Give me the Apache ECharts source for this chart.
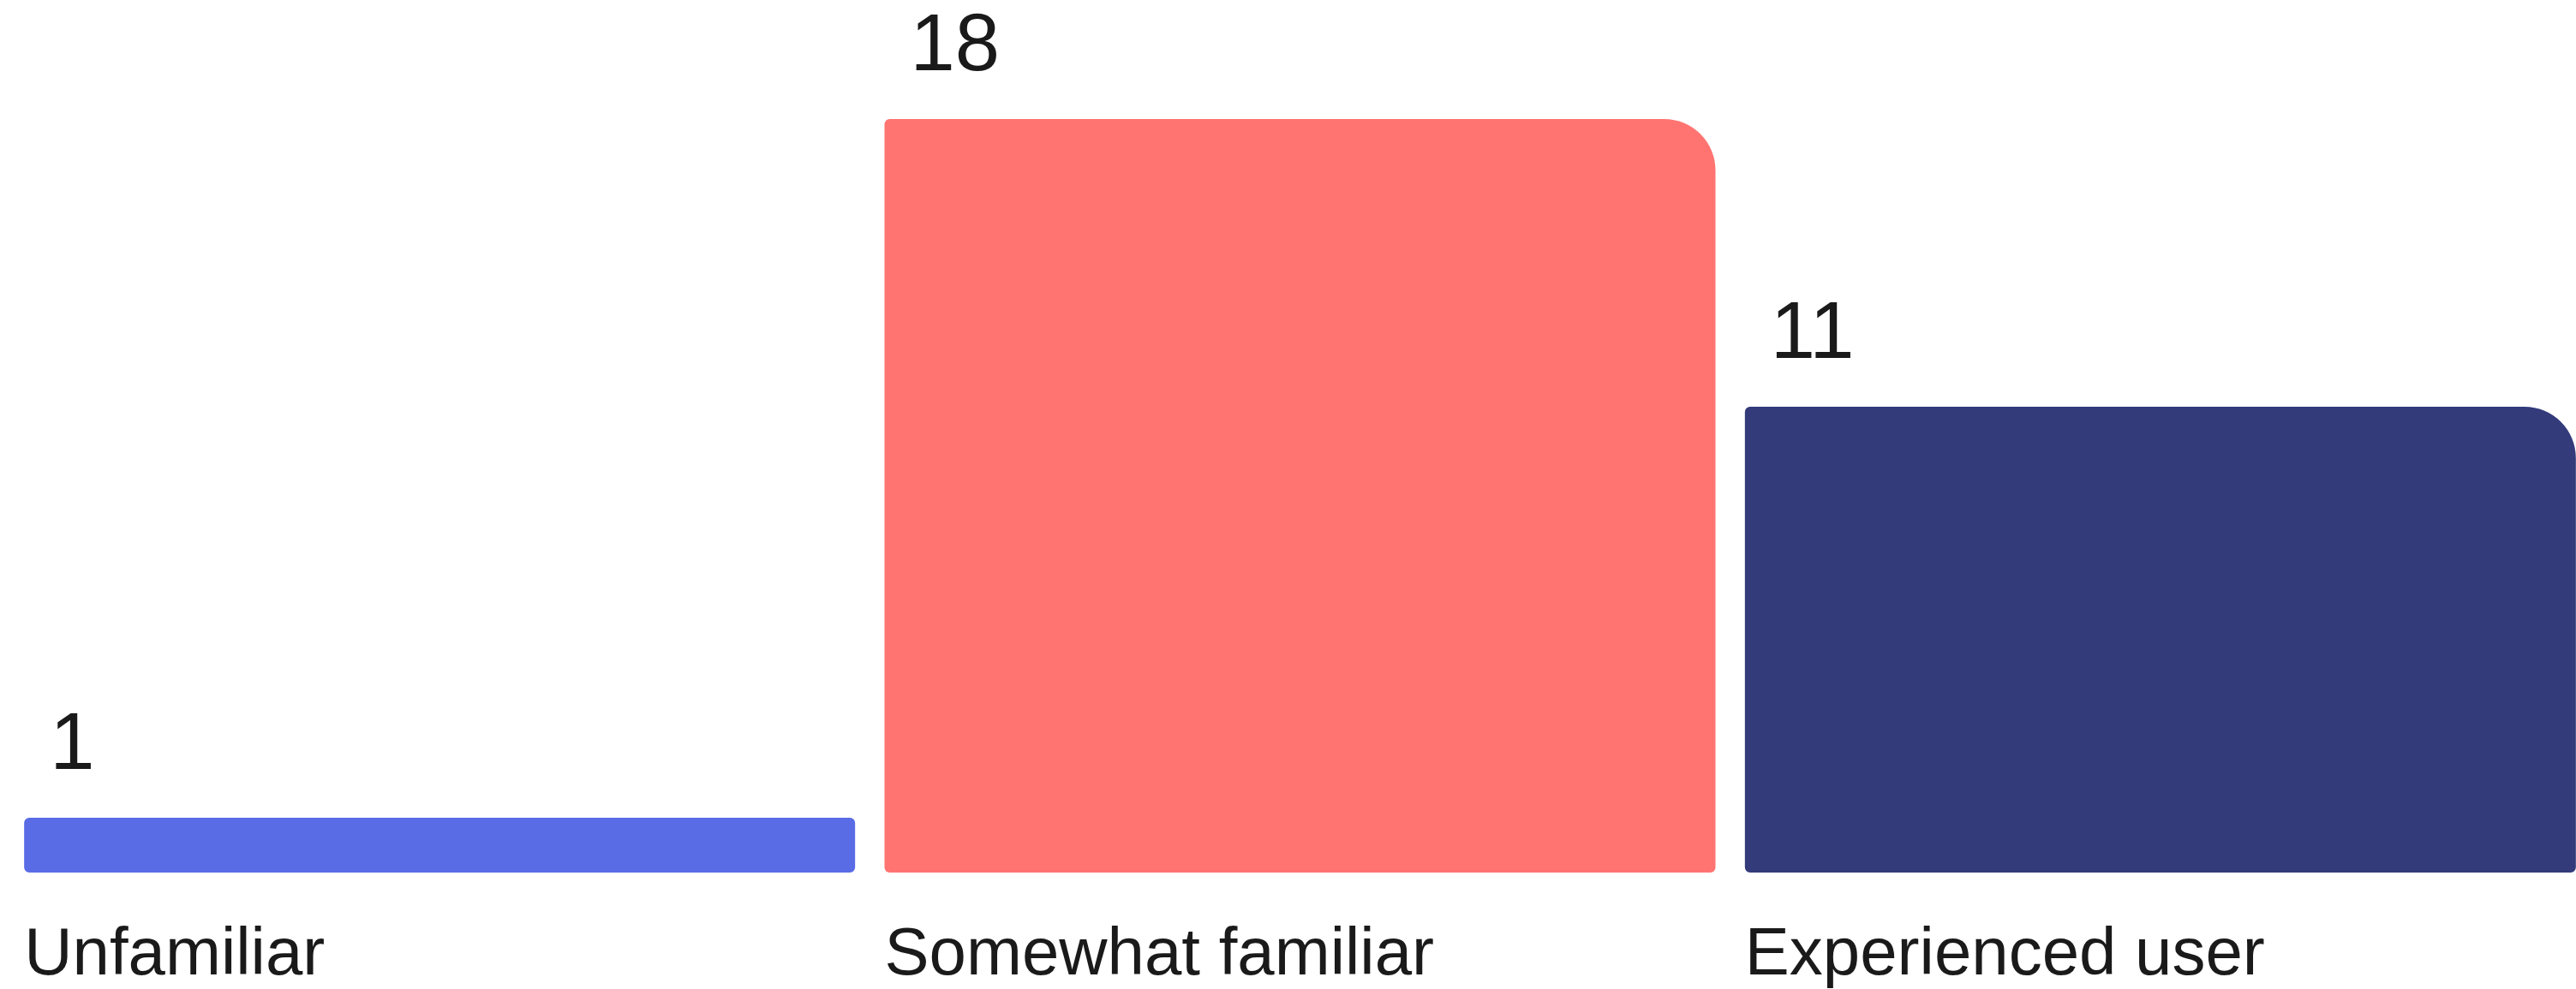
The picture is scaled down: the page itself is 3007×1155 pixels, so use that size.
<!DOCTYPE html>
<html>
<head>
<meta charset="utf-8">
<script src="https://cdn.jsdelivr.net/npm/echarts@6/dist/echarts.min.js"></script>
<style>
html,body{margin:0;padding:0;background:#fff;}
#chart{width:3007px;height:1155px;}
</style>
</head>
<body>
<div id="chart"></div>
<script>
const categories = ['Unfamiliar', 'Somewhat familiar', 'Experienced user'];
const values = [1, 18, 11];
const barColors = ['#596CE6', '#FF7471', '#333B7B'];

const chart = echarts.init(document.getElementById('chart'), null, {renderer: 'canvas'});
const FONT = 'Liberation Sans, Arial, sans-serif';
const Y_MIN = -1 / 3;

chart.setOption({
  backgroundColor: '#ffffff',
  animation: false,
  grid: {left: 11, width: 3013, top: 43, bottom: 136, containLabel: false, outerBoundsMode: 'none'},
  xAxis: {
    type: 'category',
    data: categories,
    axisLine: {show: false},
    axisTick: {show: false},
    splitLine: {show: false},
    axisLabel: {
      interval: 0,
      margin: 58,
      formatter: v => '{a|' + v + '}',
      rich: {
        a: {width: 970, align: 'left', fontSize: 78, fontFamily: FONT, color: '#1a1a1a'}
      }
    }
  },
  yAxis: {
    type: 'value',
    min: Y_MIN,
    max: 20,
    startValue: Y_MIN,
    show: false,
    splitLine: {show: false}
  },
  series: [{
    type: 'bar',
    barWidth: 970,
    data: values.map((v, i) => ({
      value: v,
      itemStyle: {
        color: barColors[i],
        borderRadius: v > 5 ? [6, 60, 6, 6] : [6, 6, 6, 6]
      }
    })),
    label: {
      show: true,
      position: [30, -36],
      align: 'left',
      verticalAlign: 'bottom',
      fontSize: 94,
      fontFamily: FONT,
      color: '#1a1a1a'
    }
  }]
});
</script>
</body>
</html>
